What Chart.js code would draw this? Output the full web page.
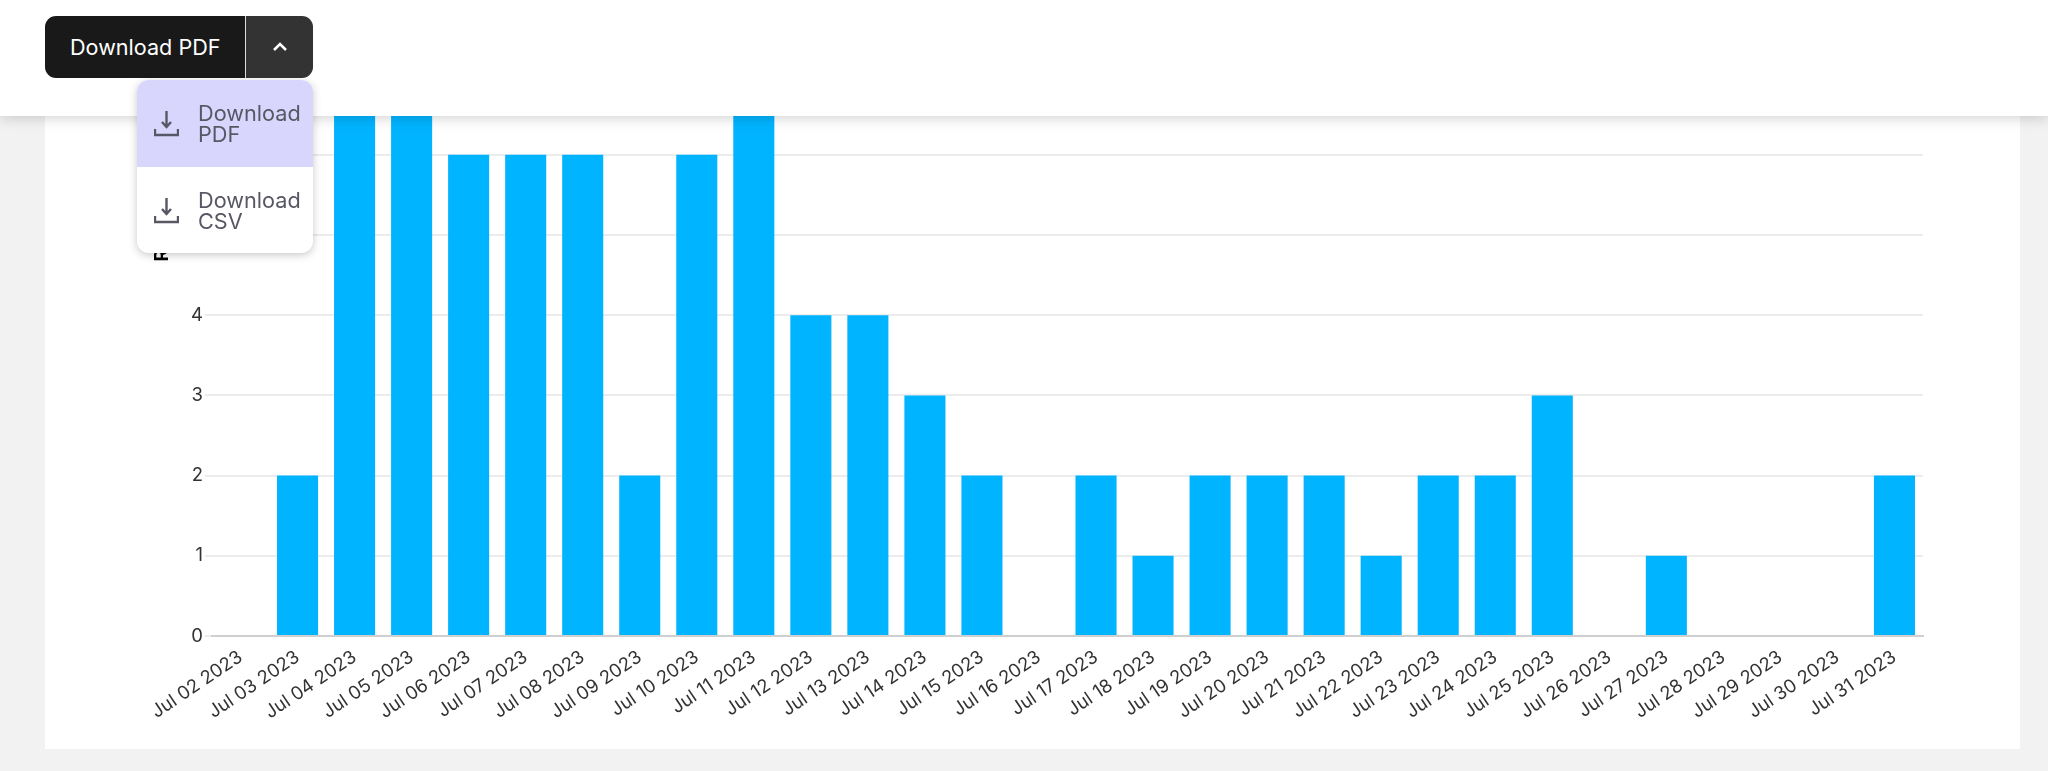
<!DOCTYPE html>
<html>
<head>
<meta charset="utf-8">
<script src="https://cdn.jsdelivr.net/npm/chart.js@4"></script>
<style>
  html, body { margin: 0; height: 100%; overflow: hidden; background: #f2f2f2; font-family: Inter, sans-serif; }
  .card { position: absolute; left: 45px; top: 0; width: 1975px; height: 749px; background: #fff; }
  .chart-box { position: absolute; left: 45px; top: -200px; width: 1975px; height: 949px; }
  .topbar { position: absolute; left: 0; top: 0; width: 2048px; height: 116px; background: #fff; box-shadow: 0 1px 14px rgba(0, 0, 0, 0.2); }
  .split-btn { position: absolute; left: 45px; top: 16px; width: 268px; height: 62px; border-radius: 11px; overflow: hidden; display: flex; color: #fff; font-size: 21.6px; }
  .split-main { width: 200px; background: #191919; line-height: 62px; text-indent: 25px; border-right: 1px solid #ddd; }
  .split-arrow { flex: 1; background: #333; display: flex; align-items: center; justify-content: center; }
  .menu { position: absolute; left: 137px; top: 80px; width: 176px; height: 173px; background: #fff; border-radius: 12px; overflow: hidden; box-shadow: 0 2px 8px rgba(0, 0, 0, 0.22); }
  .menu-item { height: 87px; display: flex; align-items: center; color: #585865; font-size: 21.7px; line-height: 21px; }
  .menu-item.active { background: #d9d6fe; }
  .menu-item svg { margin: 0 19px 0 17px; flex: none; }
</style>
</head>
<body>
<div class="card"></div>
<div class="chart-box"><canvas id="reportChart"></canvas></div>
<div class="topbar"></div>
<div class="split-btn">
  <div class="split-main">Download PDF</div>
  <div class="split-arrow">
    <svg width="16" height="10" viewBox="0 0 16 10" fill="none" stroke="#fff" stroke-width="2.6"><path d="M2 8l6-6 6 6"/></svg>
  </div>
</div>
<div class="menu">
  <div class="menu-item active">
    <svg width="25" height="26" viewBox="0 0 25 26" fill="none" stroke="#585865" stroke-width="2.4"><path d="M12.5 0v15M8 11l4.5 5 4.500-5M1 18v6h23v-6"/></svg>
    <div>Download<br>PDF</div>
  </div>
  <div class="menu-item">
    <svg width="25" height="26" viewBox="0 0 25 26" fill="none" stroke="#585865" stroke-width="2.4"><path d="M12.5 0v15M8 11l4.5 5 4.500-5M1 18v6h23v-6"/></svg>
    <div>Download<br>CSV</div>
  </div>
</div>
<script>
const dayLabels = [
    'Jul 02 2023', 'Jul 03 2023', 'Jul 04 2023', 'Jul 05 2023', 'Jul 06 2023', 'Jul 07 2023',
    'Jul 08 2023', 'Jul 09 2023', 'Jul 10 2023', 'Jul 11 2023', 'Jul 12 2023', 'Jul 13 2023',
    'Jul 14 2023', 'Jul 15 2023', 'Jul 16 2023', 'Jul 17 2023', 'Jul 18 2023', 'Jul 19 2023',
    'Jul 20 2023', 'Jul 21 2023', 'Jul 22 2023', 'Jul 23 2023', 'Jul 24 2023', 'Jul 25 2023',
    'Jul 26 2023', 'Jul 27 2023', 'Jul 28 2023', 'Jul 29 2023', 'Jul 30 2023', 'Jul 31 2023'
];
const reportCounts = [0, 2, 7, 7, 6, 6, 6, 2, 6, 7, 4, 4, 3, 2, 0, 2, 1, 2, 2, 2, 1, 2, 2, 3, 0, 1, 0, 0, 0, 2];
const yAxisMax = 10.25; // top of the axis is scrolled away under the header

Chart.defaults.font.family = 'Inter, sans-serif';
Chart.defaults.color = '#222';

new Chart(document.getElementById('reportChart'), {
    type: 'bar',
    data: {
        labels: dayLabels,
        datasets: [{
            data: reportCounts,
            backgroundColor: '#00b4ff',
            barPercentage: 0.9,
            categoryPercentage: 0.8
        }]
    },
    options: {
        responsive: true,
        maintainAspectRatio: false,
        animation: false,
        layout: { padding: { top: 14, right: 97, left: 106 } },
        plugins: { legend: { display: false }, tooltip: { enabled: false } },
        scales: {
            x: {
                afterFit: (scale) => { scale.height = 113; },
                grid: { display: false },
                border: { color: '#cfcfcf', width: 2 },
                ticks: { font: { size: 18.5 }, color: '#333', maxRotation: 34, minRotation: 34, autoSkip: false, padding: 2 }
            },
            y: {
                min: 0,
                max: yAxisMax,
                afterFit: (scale) => { scale.width = 61; },
                title: { display: true, text: 'Reports', color: '#000', font: { size: 19, weight: 'bold' }, padding: 0 },
                grid: { color: '#ececec', lineWidth: 2, drawTicks: true, tickLength: 7 },
                border: { display: false },
                ticks: { stepSize: 1, font: { size: 18.5 }, color: '#333', padding: 2 }
            }
        }
    }
});
</script>
</body>
</html>
